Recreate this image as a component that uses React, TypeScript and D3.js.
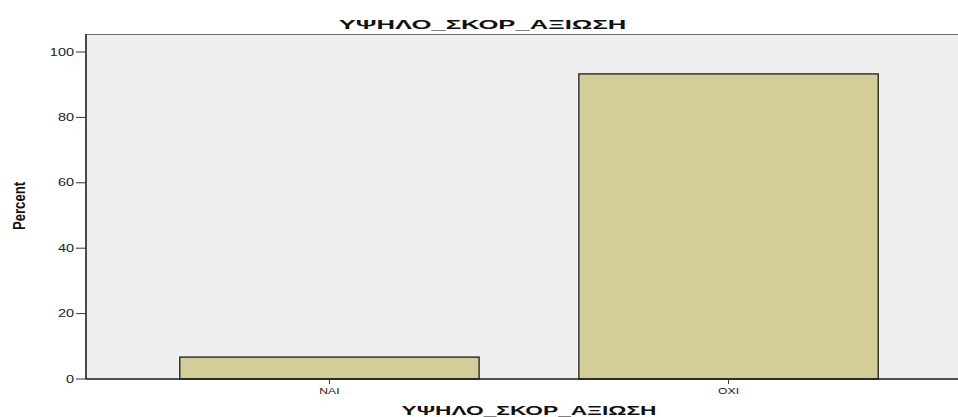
import React from "react";
import * as d3 from "d3";

const categories: string[] = ["ΝΑΙ", "ΟΧΙ"];
const percents: number[] = [6.7, 93.3];
const yTicks: number[] = [0, 20, 40, 60, 80, 100];
const chartTitle = "ΥΨΗΛΟ_ΣΚΟΡ_ΑΞΙΩΣΗ";
const xTitle = "ΥΨΗΛΟ_ΣΚΟΡ_ΑΞΙΩΣΗ";
const yTitle = "Percent";

const W = 958;
const H = 417;
const plotLeft = 86;
const plotRight = 972;
const plotTop = 34;
const plotBottom = 379;

export default function App() {
  const x = d3
    .scaleBand<string>()
    .domain(categories)
    .range([plotLeft, plotRight])
    .paddingInner(0.25)
    .paddingOuter(0.235);
  const y = d3.scaleLinear().domain([0, 100]).range([plotBottom, 52]);
  const font = "'Liberation Sans', Arial, sans-serif";

  return (
    <svg
      width={W}
      height={H}
      style={{ position: "absolute", left: 0, top: 0, background: "#fff" }}
    >
      <rect
        x={plotLeft}
        y={plotTop}
        width={plotRight - plotLeft}
        height={plotBottom - plotTop}
        fill="#efefef"
      />
      <line x1={plotLeft} x2={plotRight} y1={plotTop + 0.5} y2={plotTop + 0.5} stroke="#6e6e6e" strokeWidth={1} />
      {categories.map((c, i) => (
        <rect
          key={c}
          x={x(c)!}
          y={y(percents[i])}
          width={x.bandwidth()}
          height={y(0) - y(percents[i])}
          fill="#d3ce98"
          stroke="#1c1c1c"
          strokeWidth={1.3}
        />
      ))}
      <line x1={plotLeft} x2={plotRight} y1={plotBottom} y2={plotBottom} stroke="#1a1a1a" strokeWidth={1.3} />
      <line x1={plotLeft} x2={plotLeft} y1={plotTop} y2={plotBottom} stroke="#111" strokeWidth={1.5} />
      {yTicks.map((t) => (
        <g key={t}>
          <line x1={plotLeft - 10} x2={plotLeft} y1={y(t)} y2={y(t)} stroke="#333" strokeWidth={1} />
          <text
            transform={`translate(${plotLeft - 12},${y(t) + 3.6}) scale(1.45,1)`}
            textAnchor="end"
            fontFamily={font}
            fontSize={10}
            fill="#222"
          >
            {t}
          </text>
        </g>
      ))}
      {categories.map((c) => {
        const cx = x(c)! + x.bandwidth() / 2;
        return (
          <g key={c}>
            <line x1={cx} x2={cx} y1={plotBottom} y2={plotBottom + 5} stroke="#333" strokeWidth={1} />
            <text
              transform={`translate(${cx},${plotBottom + 15}) scale(1.35,1)`}
              textAnchor="middle"
              fontFamily={font}
              fontSize={9}
              fill="#222"
            >
              {c}
            </text>
          </g>
        );
      })}
      <text
        transform={`translate(482.5,29) scale(1.9,1)`}
        textAnchor="middle"
        fontFamily={font}
        fontWeight="bold"
        fontSize={13.5}
        fill="#111"
      >
        {chartTitle}
      </text>
      <text
        transform={`translate(${(plotLeft + plotRight) / 2},415) scale(1.75,1)`}
        textAnchor="middle"
        fontFamily={font}
        fontWeight="bold"
        fontSize={13}
        fill="#111"
      >
        {xTitle}
      </text>
      <text
        transform={`translate(25,206) rotate(-90) scale(0.82,1)`}
        textAnchor="middle"
        fontFamily={font}
        fontWeight="bold"
        fontSize={16}
        fill="#111"
      >
        {yTitle}
      </text>
    </svg>
  );
}
